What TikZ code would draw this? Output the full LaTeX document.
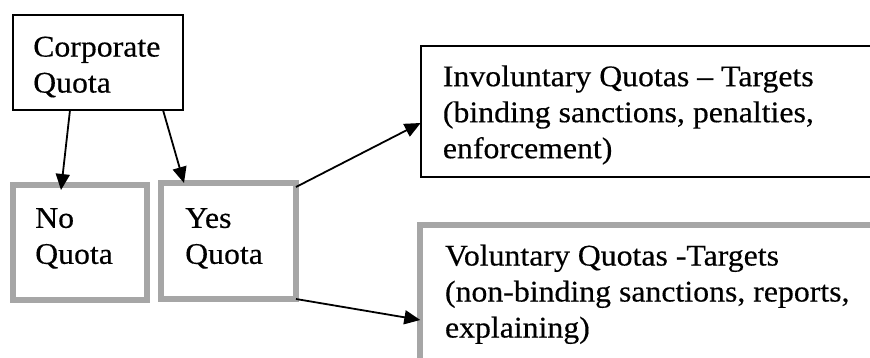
\documentclass[tikz,border=0pt]{standalone}
\usepackage{fontspec}
\setmainfont{Liberation Serif}[FakeStretch=1.06,FakeBold=0.4]
\usetikzlibrary{arrows.meta,positioning}
\definecolor{framegray}{HTML}{A6A6A6}

\begin{document}
\begin{tikzpicture}[x=1pt,y=1pt,
        box/.style={rectangle, anchor=north west, outer sep=0pt, inner sep=0pt},
        blackbox/.style={box, draw=black, line width=1.8pt},
        graybox/.style={box, draw=framegray, line width=6pt},
        txt/.style={inner sep=0pt, align=left, font=\fontsize{30}{36}\selectfont},
        arr/.style={black, line width=1.8pt, -{Triangle[length=16pt,width=14pt]}}]
        \useasboundingbox (0,0) rectangle (870,358);
        \clip (0,0) rectangle (870,358);

        \coordinate (C) at (13,343);    % Corporate
        \coordinate (N) at (13,173);    % No
        \coordinate (Y) at (161,175);   % Yes
        \coordinate (I) at (420.7,312); % Involuntary
        \coordinate (V) at (420.3,133); % Voluntary

        \node[blackbox, minimum width=170, minimum height=95] (corp) at (C) {};
        \node[graybox, minimum width=134, minimum height=115] (noq) at (N) {};
        \node[graybox, minimum width=135, minimum height=116] (yesq) at (Y) {};
        \node[blackbox, minimum width=470, minimum height=131] (invol) at (I) {};
        \node[graybox, minimum width=470, minimum height=137] (vol) at (V) {};

        \node[txt, below right=21.5pt and 20pt of corp.north west] (corptxt) {Corporate\\Quota};
        \node[txt, below right=23pt and 22pt of noq.north west] (notxt) {No\\Quota};
        \node[txt, below right=25pt and 24pt of yesq.north west] (yestxt) {Yes\\Quota};
        \node[txt, below right=19.2pt and 22pt of invol.north west] (involtxt)
            {Involuntary Quotas -- Targets\\(binding sanctions, penalties,\\enforcement)};
        \node[txt, below right=19.5pt and 24.5pt of vol.north west] (voltxt)
            {Voluntary Quotas -Targets\\(non-binding sanctions, reports,\\explaining)};

        \draw[arr] ([xshift=-28pt]corp.south) -- ([xshift=-19pt,yshift=-5pt]noq.north);
        \draw[arr] ([xshift=65pt]corp.south) -- ([xshift=-44.5pt]yesq.north);
        \draw[arr] ([yshift=-4pt]yesq.north east) -- ([yshift=-11.5pt]invol.west);
        \draw[arr] (yesq.south east) -- ([yshift=-95pt]vol.north west);

    \end{tikzpicture}
\end{document}
